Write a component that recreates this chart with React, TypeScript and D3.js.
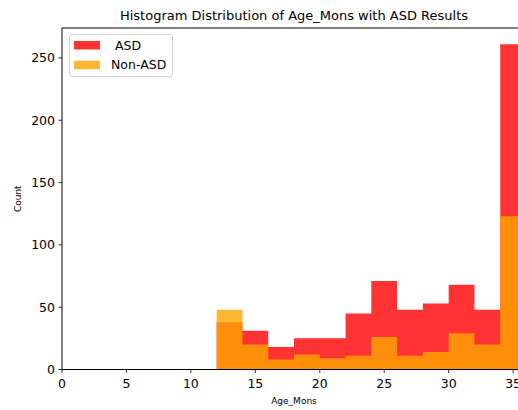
import React from "react";
import * as d3 from "d3";

const binEdges = [12, 14, 16, 18, 20, 22, 24, 26, 28, 30, 32, 34, 36];
const asdCounts = [38, 31, 18, 25, 25, 45, 71, 48, 53, 68, 48, 261];
const nonAsdCounts = [48, 20, 8, 12, 9, 11, 26, 11, 14, 29, 20, 123];
const xTicks = [0, 5, 10, 15, 20, 25, 30, 35];
const yTicks = [0, 50, 100, 150, 200, 250];
const seriesNames = [" ASD", "Non-ASD"];
const seriesColors = ["#ff0000", "#ffa500"];

const W = 518;
const H = 410;
const left = 62;
const right = 526;
const top = 28;
const bottom = 369.5;
const font = "DejaVu Sans, sans-serif";

export default function App() {
  const x = d3.scaleLinear().domain([0, 36]).range([left, right]);
  const y = d3.scaleLinear().domain([0, 274]).range([bottom, top]);
  const series = [asdCounts, nonAsdCounts];
  const barsPath = (vals: number[]) => {
    const p = d3.path();
    vals.forEach((v, i) => {
      p.rect(x(binEdges[i]), y(v), x(binEdges[i + 1]) - x(binEdges[i]), y(0) - y(v));
    });
    return p.toString();
  };
  return (
    <svg
      width={W}
      height={H}
      style={{ position: "absolute", left: 0, top: 0, background: "#fff" }}
      fontFamily={font}
    >
      <rect x={0} y={0} width={W} height={H} fill="#fff" />
      {series.map((vals, si) => (
        <path key={si} d={barsPath(vals)} fill={seriesColors[si]} fillOpacity={0.8} />
      ))}
      {/* spines */}
      <path d={`M${left},${top}V${bottom}H${right}`} fill="none" stroke="#000" strokeWidth={1} />
      <path d={`M${left},${top}H${right}V${bottom}`} fill="none" stroke="#000" strokeWidth={1} />
      {xTicks.map((t) => (
        <g key={t}>
          <line x1={x(t)} x2={x(t)} y1={bottom} y2={bottom + 3.5} stroke="#000" strokeWidth={0.8} />
          <text x={x(t)} y={bottom + 18} textAnchor="middle" fontSize={12.5} fill="#000">
            {t}
          </text>
        </g>
      ))}
      {yTicks.map((t) => (
        <g key={t}>
          <line x1={left - 3.5} x2={left} y1={y(t)} y2={y(t)} stroke="#000" strokeWidth={0.8} />
          <text x={left - 7} y={y(t)} dy="0.35em" textAnchor="end" fontSize={12.5} fill="#000">
            {t}
          </text>
        </g>
      ))}
      <text x={(left + right) / 2} y={20} textAnchor="middle" fontSize={13} fill="#000">
        Histogram Distribution of Age_Mons with ASD Results
      </text>
      <text x={(left + right) / 2} y={404} textAnchor="middle" fontSize={9} fill="#000">
        Age_Mons
      </text>
      <text
        transform={`translate(21,${(top + bottom) / 2}) rotate(-90)`}
        textAnchor="middle"
        fontSize={9}
        fill="#000"
      >
        Count
      </text>
      {/* legend */}
      <rect
        x={69.5}
        y={34.5}
        width={103}
        height={42}
        rx={2.5}
        fill="#fff"
        fillOpacity={0.8}
        stroke="#d0d0d0"
        strokeWidth={1}
      />
      {seriesNames.map((n, i) => (
        <g key={n}>
          <rect x={74} y={41 + i * 19.7} width={26} height={8.5} fill={seriesColors[i]} fillOpacity={0.8} />
          <text x={111} y={45.3 + i * 19.7} dy="0.35em" fontSize={12.5} fill="#000" style={{ whiteSpace: "pre" }}>
            {n}
          </text>
        </g>
      ))}
    </svg>
  );
}
